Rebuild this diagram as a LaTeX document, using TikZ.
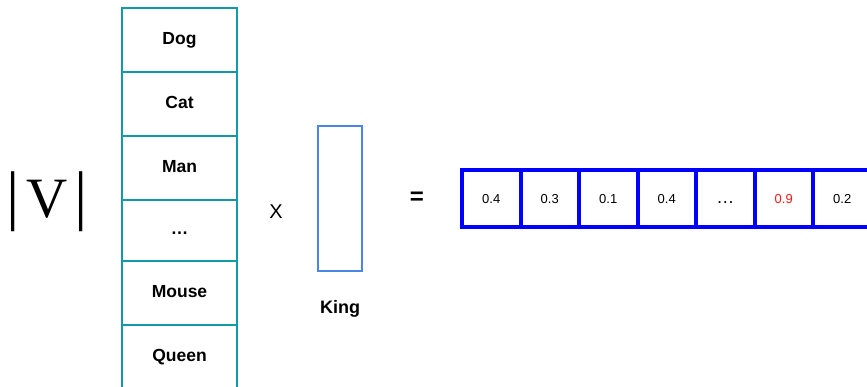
\documentclass[tikz,border=0pt]{standalone}
\usepackage{fontspec}
\setmainfont{Liberation Sans}
\newfontfamily\serifv{Liberation Serif}
\definecolor{vocabteal}{RGB}{20,153,168}
\definecolor{kingblue}{RGB}{74,134,232}
\definecolor{vecblue}{RGB}{0,0,255}
\definecolor{hotred}{RGB}{255,20,20}
\newcommand{\tallbar}{{\fontsize{66}{66}\selectfont|}}
\begin{document}
\begin{tikzpicture}[x=1pt,y=-1pt,
  wordcell/.style={draw=vocabteal, line width=2pt, minimum width=115pt,
    minimum height=64pt, inner sep=0pt, text height=12.5pt, text depth=3.5pt,
    font=\fontsize{17.5}{20}\selectfont\bfseries},
  valcell/.style={draw=vecblue, line width=4pt, minimum width=58.5pt,
    minimum height=57pt, inner sep=0pt, text height=10pt, text depth=0pt,
    font=\fontsize{13}{15}\selectfont},
  plain/.style={inner sep=0pt}
]
\useasboundingbox (0,0) rectangle (867,387);
\clip (0,0) rectangle (867,387);

% vocabulary size label
\node[plain, anchor=base, font=\serifv\fontsize{57}{60}\selectfont] (vsize) at (47,218)
  {\tallbar\hspace{7pt}V\hspace{7pt}\tallbar};

% one-hot vocabulary column
\node[wordcell] (dog)   at (179.5,40)  {Dog};
\node[wordcell] (cat)   at (179.5,104) {Cat};
\node[wordcell] (man)   at (179.5,168) {Man};
\node[wordcell, minimum height=61pt] (dots) at (179.5,230.5) {…};
\node[wordcell] (mouse) at (179.5,293) {Mouse};
\node[wordcell] (queen) at (179.5,357) {Queen};

% multiplication sign
\node[plain, font=\fontsize{20}{22}\selectfont] (times) at (276,212) {X};

% embedding vector of the word
\node[draw=kingblue, line width=2pt, minimum width=44pt,
  minimum height=145pt, inner sep=0pt] (king) at (340,198.5) {};
\node[plain, font=\fontsize{18}{20}\selectfont\bfseries] (kinglbl) at (340,309) {King};

% equals sign
\node[plain, font=\fontsize{24}{26}\selectfont\bfseries] (eq) at (417,198) {=};

% resulting row vector
\node[valcell] (v1) at (491.25,198.5) {0.4};
\node[valcell] (v2) at (549.75,198.5) {0.3};
\node[valcell] (v3) at (608.25,198.5) {0.1};
\node[valcell] (v4) at (666.75,198.5) {0.4};
\node[valcell, font=\fontsize{18}{20}\selectfont] (v5) at (725.25,198.5) {…};
\node[valcell, text=hotred] (v6) at (783.75,198.5) {0.9};
\node[valcell] (v7) at (842.25,198.5) {0.2};
\end{tikzpicture}
\end{document}
